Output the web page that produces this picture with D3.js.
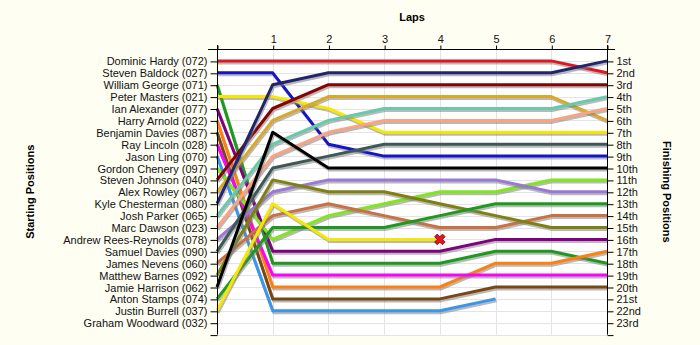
<!DOCTYPE html>
<html>
<head>
<meta charset="utf-8">
<script src="https://cdn.jsdelivr.net/npm/d3@7"></script>
<style>
  html, body { margin: 0; padding: 0; background: #fefef3; }
  svg { display: block; }
  text { font-family: "Liberation Sans", Arial, sans-serif; }
</style>
</head>
<body>
<svg id="chart" width="700" height="345"></svg>
<script>
// Drivers in starting-grid order
const drivers = [
  "Dominic Hardy (072)", "Steven Baldock (027)", "William George (071)", "Peter Masters (021)",
  "Ian Alexander (077)", "Harry Arnold (022)", "Benjamin Davies (087)", "Ray Lincoln (028)",
  "Jason Ling (070)", "Gordon Chenery (097)", "Steven Johnson (040)", "Alex Rowley (067)",
  "Kyle Chesterman (080)", "Josh Parker (065)", "Marc Dawson (023)", "Andrew Rees-Reynolds (078)",
  "Samuel Davies (090)", "James Nevens (060)", "Matthew Barnes (092)", "Jamie Harrison (062)",
  "Anton Stamps (074)", "Justin Burrell (037)", "Graham Woodward (032)"
];

const colors = [
  "#e2171d", "#1414c8", "#1c9a1c", "#f8e800",
  "#800080", "#ff7f10", "#7a4714", "#ff00ff",
  "#3a96ea", "#7ee81a", "#8b0000", "#dcaa22",
  "#23236e", "#66cbaa", "#fba283", "#9878d8",
  "#3e5858", "#cd7040", "#808010", "#000000",
  "#1c9a1c", "#f8e800", "#999999"
];

// Race position at lap 0 (grid) through lap 7; shorter rows stop where the driver left the race
const positions = [
  [1, 1, 1, 1, 1, 1, 1, 2],
  [2, 2, 8, 9, 9, 9, 9, 9],
  [3, 18, 18, 18, 18, 17, 17, 18],
  [4, 4, 5, 7, 7, 7, 7, 7],
  [5, 17, 17, 17, 17, 16, 16, 16],
  [6, 20, 20, 20, 20, 18, 18, 17],
  [7, 21, 21, 21, 21, 20, 20, 20],
  [8, 19, 19, 19, 19, 19, 19, 19],
  [9, 22, 22, 22, 22, 21],
  [10, 16, 14, 13, 12, 12, 11, 11],
  [11, 5, 3, 3, 3, 3, 3, 3],
  [12, 6, 4, 4, 4, 4, 4, 6],
  [13, 3, 2, 2, 2, 2, 2, 1],
  [14, 8, 6, 5, 5, 5, 5, 4],
  [15, 9, 7, 6, 6, 6, 6, 5],
  [16, 12, 11, 11, 11, 11, 12, 12],
  [17, 10, 9, 8, 8, 8, 8, 8],
  [18, 14, 13, 14, 15, 15, 14, 14],
  [19, 11, 12, 12, 13, 14, 15, 15],
  [20, 7, 10, 10, 10, 10, 10, 10],
  [21, 15, 15, 15, 14, 13, 13, 13],
  [22, 13, 16, 16, 16],
  []
];

// Drivers marked with a crash symbol on their last lap
const crashed = ["Justin Burrell (037)"];

const laps = [0, 1, 2, 3, 4, 5, 6, 7];
const lapLabels = ["", "1", "2", "3", "4", "5", "6", "7"];
const finishLabels = ["1st", "2nd", "3rd", "4th", "5th", "6th", "7th", "8th", "9th", "10th",
  "11th", "12th", "13th", "14th", "15th", "16th", "17th", "18th", "19th", "20th",
  "21st", "22nd", "23rd"];

const svg = d3.select("#chart");
const pLeft = 217, pRight = 607, pTop = 49, pBottom = 334.6;

const x = d3.scaleLinear().domain([0, 7]).range([pLeft, pRight]);
const y = d3.scaleLinear().domain([0, 24]).range([pTop, pBottom]);
const posTicks = d3.range(1, 24);

// plot background
svg.append("rect")
  .attr("x", pLeft).attr("y", pTop)
  .attr("width", pRight - pLeft).attr("height", pBottom - pTop)
  .attr("fill", "#ffffff");

// grid
const grid = svg.append("g").attr("stroke", "#e4e4e4").attr("stroke-width", 1);
grid.selectAll("line.h").data(posTicks.concat([24])).join("line")
  .attr("class", "h")
  .attr("x1", pLeft).attr("x2", pRight)
  .attr("y1", d => Math.round(y(d)) + 0.5).attr("y2", d => Math.round(y(d)) + 0.5);
grid.selectAll("line.v").data(laps.slice(1, 7)).join("line")
  .attr("class", "v")
  .attr("x1", d => Math.round(x(d)) + 0.5).attr("x2", d => Math.round(x(d)) + 0.5)
  .attr("y1", pTop).attr("y2", pBottom);

// position lines
const line = d3.line()
  .x((d, i) => x(laps[i]))
  .y(d => y(d));

const series = drivers.map((name, i) => ({ name, color: colors[i], pos: positions[i] }))
  .filter(s => s.pos.length > 0);

const lines = svg.append("g").attr("fill", "none").attr("stroke-linejoin", "round");
series.forEach(s => {
  lines.append("path")
    .attr("d", line(s.pos))
    .attr("transform", "translate(1,2)")
    .attr("stroke", "#808080")
    .attr("stroke-opacity", 0.55)
    .attr("stroke-width", 3);
  lines.append("path")
    .attr("d", line(s.pos))
    .attr("stroke", s.color)
    .attr("stroke-width", 3);
});

// crash markers
const cross = d3.symbol().type(d3.symbolCross).size(70);
series.filter(s => crashed.includes(s.name)).forEach(s => {
  const last = s.pos.length - 1;
  svg.append("path")
    .attr("d", cross())
    .attr("transform", `translate(${x(laps[last])},${y(s.pos[last])}) rotate(45)`)
    .attr("fill", "#e8141c")
    .attr("stroke", "#5a1010")
    .attr("stroke-width", 0.8);
});

// axes
const axisStyle = g => {
  g.select(".domain").remove();
  g.selectAll(".tick line").attr("stroke", "#000");
  g.selectAll(".tick text").attr("fill", "#111").attr("font-size", 11)
    .attr("font-family", "'Liberation Sans', Arial, sans-serif");
};

const nameOf = d3.scaleOrdinal().domain(posTicks).range(drivers);
svg.append("g")
  .attr("transform", `translate(${pLeft + 0.5},0.5)`)
  .call(d3.axisLeft(y).tickValues(posTicks.concat([24]))
    .tickFormat(d => d <= 23 ? nameOf(d) : "").tickSize(7).tickPadding(3).tickSizeOuter(0))
  .call(axisStyle);

const finishOf = d3.scaleOrdinal().domain(posTicks).range(finishLabels);
svg.append("g")
  .attr("transform", `translate(${pRight + 0.5},0.5)`)
  .call(d3.axisRight(y).tickValues(posTicks.concat([24]))
    .tickFormat(d => d <= 23 ? finishOf(d) : "").tickSize(6).tickPadding(3).tickSizeOuter(0))
  .call(axisStyle);

svg.append("g")
  .attr("transform", `translate(0.5,${pTop + 0.5})`)
  .call(d3.axisTop(x).tickValues(laps).tickFormat((d, i) => lapLabels[i])
    .tickSize(4).tickPadding(3).tickSizeOuter(0))
  .call(axisStyle);

// axis lines
const axes = svg.append("g").attr("stroke", "#000").attr("stroke-width", 1);
axes.append("line").attr("x1", pLeft + 0.5).attr("x2", pLeft + 0.5).attr("y1", pTop - 4).attr("y2", pBottom);
axes.append("line").attr("x1", pRight + 0.5).attr("x2", pRight + 0.5).attr("y1", pTop - 4).attr("y2", pBottom);
axes.append("line").attr("x1", pLeft - 9).attr("x2", pRight + 8).attr("y1", pTop + 0.5).attr("y2", pTop + 0.5);

// axis titles
svg.append("text")
  .attr("x", (pLeft + pRight) / 2).attr("y", 21)
  .attr("text-anchor", "middle").attr("font-size", 11).attr("font-weight", "bold")
  .text("Laps");
svg.append("text")
  .attr("transform", `translate(34,${(pTop + pBottom) / 2}) rotate(-90)`)
  .attr("text-anchor", "middle").attr("font-size", 11).attr("font-weight", "bold")
  .text("Starting Positions");
svg.append("text")
  .attr("transform", `translate(663,${(pTop + pBottom) / 2}) rotate(90)`)
  .attr("text-anchor", "middle").attr("font-size", 11).attr("font-weight", "bold")
  .text("Finishing Positions");
</script>
</body>
</html>
